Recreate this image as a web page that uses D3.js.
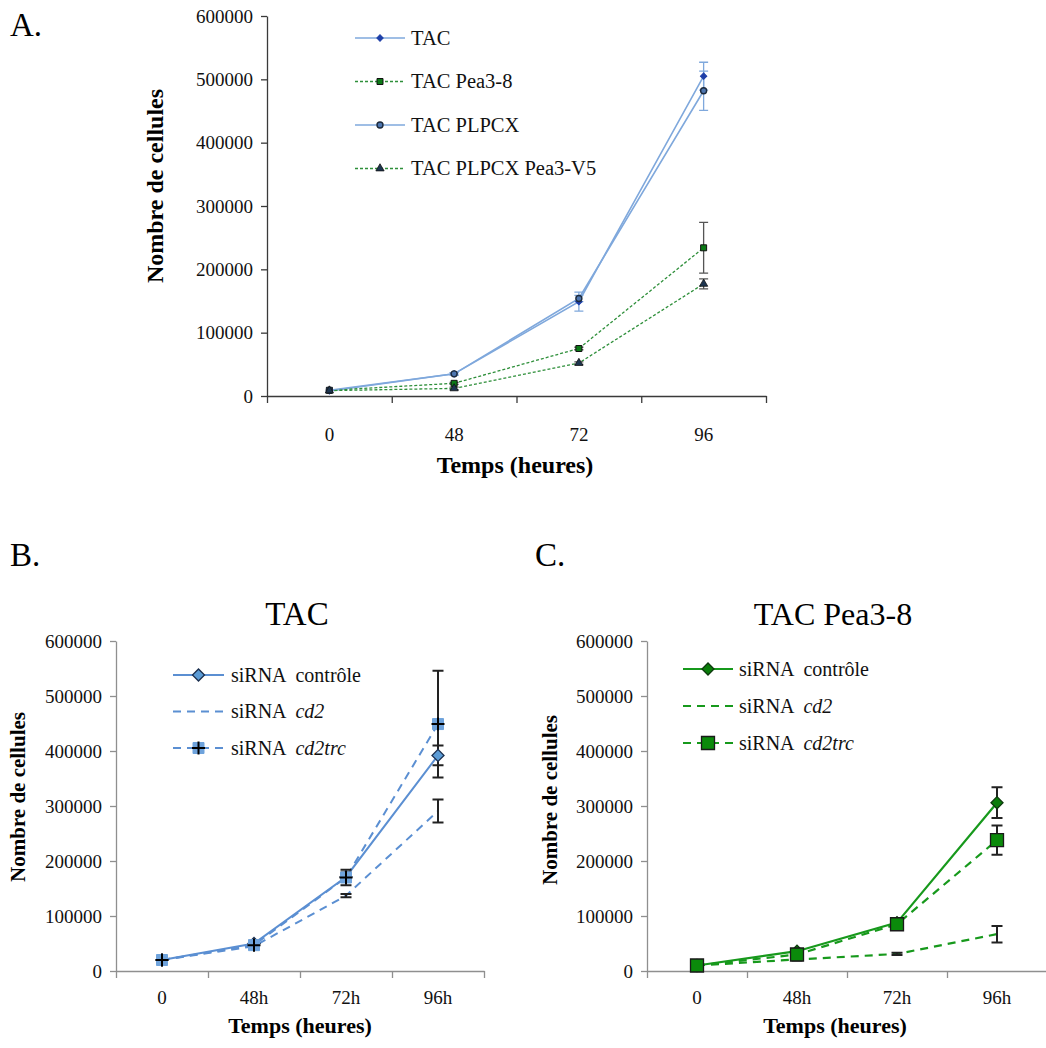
<!DOCTYPE html>
<html><head><meta charset="utf-8">
<script src="https://cdn.jsdelivr.net/npm/d3@7"></script>
<style>
body{margin:0;background:#fff;}
svg text{font-family:"Liberation Serif","Times New Roman","DejaVu Serif",serif;}
</style>
</head><body>
<svg id="c" width="1046" height="1048" xmlns="http://www.w3.org/2000/svg"></svg>
<script>
// ---------- DATA ----------
const hoursA = ["0", "48", "72", "96"];
const hoursBC = ["0", "48h", "72h", "96h"];
const yTickValues = [0, 100000, 200000, 300000, 400000, 500000, 600000];

// Panel A
const namesA = ["TAC", "TAC Pea3-8", "TAC PLPCX", "TAC PLPCX Pea3-V5"];
const tacA = [8000, 35000, 149000, 505000];
const tacErrA = [0, 2000, 15000, 22000];
const pea38A = [9000, 20000, 75000, 234000];
const pea38ErrA = [0, 1500, 2000, 40000];
const plpcxA = [9000, 35000, 154000, 482000];
const plpcxErrA = [0, 2000, 5000, 31000];
const v5A = [8500, 12000, 52000, 177000];
const v5ErrA = [0, 2000, 2000, 8000];

// Panel B  (TAC)
const namesBC = ["siRNA  contrôle", "siRNA  ", "siRNA  "];
const italicBC = ["", "cd2", "cd2trc"];
const ctrlB = [20000, 50000, 171000, 392000];
const ctrlErrB = [0, 5000, 8000, 18000];
const cd2B = [20000, 45000, 137000, 291000];
const cd2ErrB = [0, 2000, 3000, 21000];
const trcB = [20000, 47000, 170000, 449000];
const trcErrB = [0, 4000, 14000, 97000];

// Panel C  (TAC Pea3-8)
const ctrlC = [10000, 36000, 88000, 306000];
const ctrlErrC = [0, 3000, 3000, 28000];
const cd2C = [10000, 21000, 31000, 67000];
const cd2ErrC = [0, 2000, 2000, 15000];
const trcC = [10000, 30000, 85000, 238000];
const trcErrC = [0, 2000, 3000, 26500];

// ---------- DRAW ----------
const FONT = "Liberation Serif, Times New Roman, DejaVu Serif, serif";
const svg = d3.select("#c");
svg.append("rect").attr("width", 1046).attr("height", 1048).attr("fill", "#fff");

function drawMarker(sel, m) {
  if (!m || m.type === "none") return;
  if (m.type === "diamond") {
    sel.append("path").attr("d", d3.symbol().type(d3.symbolSquare).size(m.size * m.size)())
      .attr("transform", "rotate(45)")
      .attr("fill", m.fill).attr("stroke", m.stroke).attr("stroke-width", m.sw || 1);
  } else if (m.type === "square" || m.type === "squarePlus") {
    sel.append("path").attr("d", d3.symbol().type(d3.symbolSquare).size(m.size * m.size)())
      .attr("fill", m.fill).attr("stroke", m.stroke).attr("stroke-width", m.sw || 1);
    if (m.type === "squarePlus") {
      const h = m.size / 2 + 1;
      sel.append("path").attr("d", `M${-h},0H${h}M0,${-h}V${h}`).attr("stroke", "#000").attr("stroke-width", 2);
    }
  } else if (m.type === "circle") {
    sel.append("circle").attr("r", m.size / 2).attr("fill", m.fill).attr("stroke", m.stroke).attr("stroke-width", m.sw || 1);
  } else if (m.type === "triangle") {
    sel.append("path").attr("d", d3.symbol().type(d3.symbolTriangle).size(m.size * m.size * 0.6)())
      .attr("fill", m.fill).attr("stroke", m.stroke).attr("stroke-width", m.sw || 1);
  }
}

function styleText(sel, fs) {
  return sel.style("font-family", FONT).attr("font-size", fs);
}

function drawPanel(cfg) {
  const g = svg.append("g").attr("transform", `translate(${cfg.left},${cfg.top})`);
  const x = d3.scaleBand().domain(cfg.cats).range([0, cfg.width]).padding(0);
  const xb = d3.scaleLinear().domain([0, cfg.cats.length]).range([0, cfg.width]);
  const y = d3.scaleLinear().domain([0, 600000]).range([cfg.height, 0]);
  const cx = c => x(c) + x.bandwidth() / 2;

  // Y axis
  const ya = g.append("g").call(d3.axisLeft(y).tickValues(yTickValues).tickFormat(d3.format("d"))
    .tickSize(6).tickSizeOuter(0).tickPadding(cfg.yPad));
  ya.attr("font-family", null).attr("font-size", null);
  ya.select(".domain").attr("stroke", cfg.axisColor).attr("stroke-width", 1.3);
  ya.selectAll(".tick line").attr("stroke", cfg.axisColor).attr("stroke-width", 1.3);
  styleText(ya.selectAll(".tick text"), cfg.tickFont).attr("fill", "#111");

  // X axis line + boundary ticks
  const xa = g.append("g").attr("transform", `translate(0,${cfg.height})`)
    .call(d3.axisBottom(xb).ticks(cfg.cats.length).tickFormat("").tickSize(7).tickSizeOuter(0));
  xa.select(".domain").attr("stroke", cfg.axisColor).attr("stroke-width", 1.3);
  xa.selectAll(".tick line").attr("stroke", cfg.axisColor).attr("stroke-width", 1.3);
  // X category labels
  const xl = g.append("g").attr("transform", `translate(0,${cfg.height})`)
    .call(d3.axisBottom(x).tickSize(0).tickPadding(cfg.xPad));
  xl.attr("font-family", null).attr("font-size", null);
  xl.select(".domain").remove();
  styleText(xl.selectAll(".tick text"), cfg.tickFont).attr("fill", "#111");

  // Series lines
  cfg.series.forEach(s => {
    const pts = cfg.cats.map((c, i) => ({ c, v: s.values[i] }));
    g.append("path").datum(pts)
      .attr("d", d3.line().x(d => cx(d.c)).y(d => y(d.v)))
      .attr("fill", "none").attr("stroke", s.color).attr("stroke-width", s.width)
      .attr("stroke-dasharray", s.dash || null);
  });
  // Error bars
  cfg.series.forEach(s => {
    cfg.cats.forEach((c, i) => {
      const e = s.errors[i];
      if (!e) return;
      const xx = cx(c), y1 = y(s.values[i] + e), y2 = y(s.values[i] - e), w = cfg.cap;
      g.append("path").attr("d", `M${xx},${y1}V${y2}M${xx - w / 2},${y1}H${xx + w / 2}M${xx - w / 2},${y2}H${xx + w / 2}`)
        .attr("stroke", s.errColor).attr("stroke-width", cfg.errWidth).attr("fill", "none");
    });
  });
  // Markers
  cfg.series.forEach(s => {
    cfg.cats.forEach((c, i) => {
      const mg = g.append("g").attr("transform", `translate(${cx(c)},${y(s.values[i])})`);
      drawMarker(mg, s.marker);
    });
  });

  // Legend
  cfg.series.forEach((s, i) => {
    const ly = cfg.legend.y0 + i * cfg.legend.dy;
    const lg = svg.append("g");
    lg.append("line").attr("x1", cfg.legend.x1).attr("x2", cfg.legend.x2).attr("y1", ly).attr("y2", ly)
      .attr("stroke", s.color).attr("stroke-width", s.width).attr("stroke-dasharray", s.dash || null);
    const mg = lg.append("g").attr("transform", `translate(${(cfg.legend.x1 + cfg.legend.x2) / 2},${ly})`);
    drawMarker(mg, s.marker);
    const t = styleText(lg.append("text"), cfg.legend.fs).attr("x", cfg.legend.tx).attr("y", ly + cfg.legend.fs * 0.33)
      .attr("fill", "#111").style("white-space", "pre");
    t.append("tspan").text(s.name);
    if (s.italic) t.append("tspan").attr("font-style", "italic").text(s.italic);
  });

  // Axis titles
  styleText(svg.append("text"), cfg.yLabel.fs).attr("transform", `translate(${cfg.yLabel.x},${cfg.yLabel.y}) rotate(-90)`)
    .attr("text-anchor", "middle").attr("font-weight", "bold").attr("fill", "#000").text("Nombre de cellules");
  styleText(svg.append("text"), cfg.xLabel.fs).attr("x", cfg.xLabel.x).attr("y", cfg.xLabel.y)
    .attr("text-anchor", "middle").attr("font-weight", "bold").attr("fill", "#000").text("Temps (heures)");
  if (cfg.title) {
    styleText(svg.append("text"), cfg.title.fs).attr("x", cfg.title.x).attr("y", cfg.title.y).attr("text-anchor", "middle")
      .attr("fill", "#000").text(cfg.title.text);
  }
  styleText(svg.append("text"), 33).attr("x", cfg.letter.x).attr("y", cfg.letter.y)
    .attr("fill", "#000").text(cfg.letter.text);
}

const blueA = "#7fa8dc", greenA = "#2e8f3a";
drawPanel({
  left: 267, top: 16, width: 499, height: 380, cats: hoursA,
  axisColor: "#3a3a3a", tickFont: 19, yPad: 8, xPad: 32, cap: 9, errWidth: 1.3,
  series: [
    { name: namesA[0], values: tacA, errors: tacErrA, color: blueA, width: 1.6, errColor: blueA,
      marker: { type: "diamond", size: 4.5, fill: "#1f3fa8", stroke: "#1f3fa8" } },
    { name: namesA[1], values: pea38A, errors: pea38ErrA, color: greenA, width: 1.3, dash: "3,2", errColor: "#555",
      marker: { type: "square", size: 6, fill: "#0c7a16", stroke: "#111", sw: 1 } },
    { name: namesA[2], values: plpcxA, errors: plpcxErrA, color: blueA, width: 1.6, errColor: blueA,
      marker: { type: "circle", size: 6, fill: "#4d76b0", stroke: "#1c2a3c", sw: 1.4 } },
    { name: namesA[3], values: v5A, errors: v5ErrA, color: greenA, width: 1.3, dash: "3,2", errColor: "#555",
      marker: { type: "triangle", size: 7, fill: "#1d3550", stroke: "#111", sw: 0.8 } }
  ],
  legend: { x1: 355, x2: 405, tx: 411, y0: 38, dy: 43.5, fs: 20.5 },
  yLabel: { x: 163, y: 186, fs: 24 }, xLabel: { x: 515, y: 473, fs: 24 },
  letter: { x: 10, y: 36, text: "A." }
});

const blueB = "#5b8fd2";
drawPanel({
  left: 116, top: 641, width: 368, height: 330, cats: hoursBC,
  axisColor: "#8f8f8f", tickFont: 19, yPad: 8, xPad: 20, cap: 11, errWidth: 2,
  series: [
    { name: namesBC[0], italic: italicBC[0], values: ctrlB, errors: ctrlErrB, color: blueB, width: 2, errColor: "#222",
      marker: { type: "diamond", size: 8.5, fill: "#5b9bd5", stroke: "#1b2f4f", sw: 1.3 } },
    { name: namesBC[1], italic: italicBC[1], values: cd2B, errors: cd2ErrB, color: blueB, width: 2, dash: "8,6", errColor: "#222",
      marker: { type: "none" } },
    { name: namesBC[2], italic: italicBC[2], values: trcB, errors: trcErrB, color: blueB, width: 2, dash: "8,6", errColor: "#222",
      marker: { type: "squarePlus", size: 11, fill: "#6fa3dc", stroke: "#6fa3dc" } }
  ],
  legend: { x1: 173, x2: 224, tx: 231, y0: 675, dy: 36.5, fs: 20 },
  yLabel: { x: 25, y: 797, fs: 21 }, xLabel: { x: 300, y: 1033, fs: 22 },
  title: { x: 297, y: 625, fs: 33, text: "TAC" },
  letter: { x: 10, y: 566, text: "B." }
});

const greenC = "#17991c";
drawPanel({
  left: 647, top: 641, width: 400, height: 330, cats: hoursBC,
  axisColor: "#8f8f8f", tickFont: 19, yPad: 8, xPad: 20, cap: 11, errWidth: 2,
  series: [
    { name: namesBC[0], italic: italicBC[0], values: ctrlC, errors: ctrlErrC, color: greenC, width: 2.2, errColor: "#222",
      marker: { type: "diamond", size: 8.5, fill: "#0a7d0a", stroke: "#0d3a0d", sw: 1.3 } },
    { name: namesBC[1], italic: italicBC[1], values: cd2C, errors: cd2ErrC, color: greenC, width: 2.2, dash: "8,6", errColor: "#222",
      marker: { type: "none" } },
    { name: namesBC[2], italic: italicBC[2], values: trcC, errors: trcErrC, color: greenC, width: 2.2, dash: "8,6", errColor: "#222",
      marker: { type: "square", size: 13, fill: "#0b8a0b", stroke: "#1a1a1a", sw: 1.3 } }
  ],
  legend: { x1: 683, x2: 733, tx: 739, y0: 669, dy: 37, fs: 20 },
  yLabel: { x: 557, y: 800, fs: 21 }, xLabel: { x: 835, y: 1033, fs: 22 },
  title: { x: 833, y: 625, fs: 32, text: "TAC Pea3-8" },
  letter: { x: 535, y: 566, text: "C." }
});
</script>
</body></html>
